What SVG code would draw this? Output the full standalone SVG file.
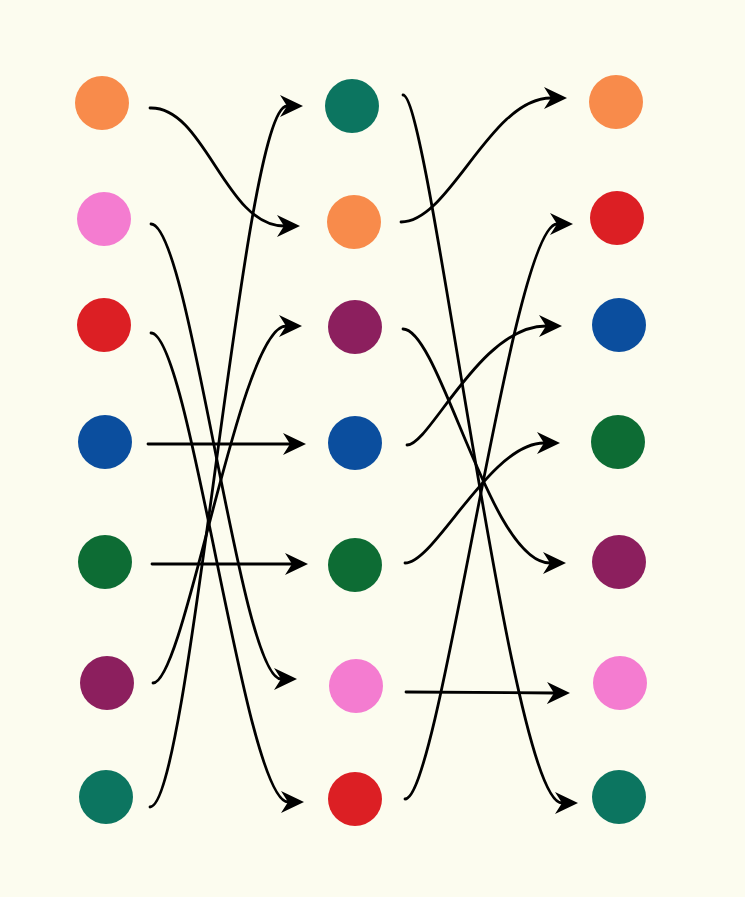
<svg xmlns="http://www.w3.org/2000/svg" width="745" height="897" viewBox="0 0 745 897">
<style>
.c{fill:none;stroke:#000;stroke-width:2.8;stroke-linecap:round;marker-end:url(#ah)}
.orange{fill:#F88B4B}.pink{fill:#F47CD0}.red{fill:#DC1F24}.blue{fill:#0B4E9E}
.green{fill:#0D6C34}.purple{fill:#8C1F5E}.teal{fill:#0C7560}
</style>
<defs>
<marker id="ah" markerUnits="userSpaceOnUse" markerWidth="24" markerHeight="24" viewBox="0 -12 24 24" refX="7" refY="0" orient="auto">
<path d="M0,-11 L23,0 L0,11 L7,0 Z" fill="#000"/>
</marker>
</defs>
<rect width="745" height="897" fill="#FCFCEF"/>
<g id="left">
<circle id="L1" class="orange" cx="102" cy="103" r="27"/>
<circle id="L2" class="pink" cx="104" cy="219" r="27"/>
<circle id="L3" class="red" cx="104" cy="325" r="27"/>
<circle id="L4" class="blue" cx="105" cy="442" r="27"/>
<circle id="L5" class="green" cx="105" cy="562" r="27"/>
<circle id="L6" class="purple" cx="107" cy="683" r="27"/>
<circle id="L7" class="teal" cx="106" cy="797" r="27"/>
</g>
<g id="middle">
<circle id="M1" class="teal" cx="352" cy="106" r="27"/>
<circle id="M2" class="orange" cx="354" cy="222" r="27"/>
<circle id="M3" class="purple" cx="355" cy="327" r="27"/>
<circle id="M4" class="blue" cx="355" cy="443" r="27"/>
<circle id="M5" class="green" cx="355" cy="565" r="27"/>
<circle id="M6" class="pink" cx="356" cy="686" r="27"/>
<circle id="M7" class="red" cx="355" cy="799" r="27"/>
</g>
<g id="right">
<circle id="R1" class="orange" cx="616" cy="102" r="27"/>
<circle id="R2" class="red" cx="617" cy="218" r="27"/>
<circle id="R3" class="blue" cx="619" cy="325" r="27"/>
<circle id="R4" class="green" cx="618" cy="442" r="27"/>
<circle id="R5" class="purple" cx="619" cy="562" r="27"/>
<circle id="R6" class="pink" cx="620" cy="683" r="27"/>
<circle id="R7" class="teal" cx="619" cy="797" r="27"/>
</g>
<g id="connectors">
<path class="c" d="M150,108 C205,106 225,226 284,226"/>
<path class="c" d="M151,224 C190,224 240,679 281,679"/>
<path class="c" d="M151,333 C190,333 245,802 288,802"/>
<path class="c" d="M148,444 L290,444"/>
<path class="c" d="M152,564 L292,564"/>
<path class="c" d="M153,683 C185,683 240,326 286,326"/>
<path class="c" d="M150,807 C190,807 243,106 287,106"/>
<path class="c" d="M403,95 C430,95 510,803 562,803"/>
<path class="c" d="M401,222 C450,222 490,98 551,98"/>
<path class="c" d="M403,329 C440,329 490,563 550,563"/>
<path class="c" d="M407,445 C430,445 480,326 546,326"/>
<path class="c" d="M405,563 C435,563 490,443 544,443"/>
<path class="c" d="M406,692 L554,693"/>
<path class="c" d="M405,799 C440,799 512,224 557,224"/>
</g>
</svg>
